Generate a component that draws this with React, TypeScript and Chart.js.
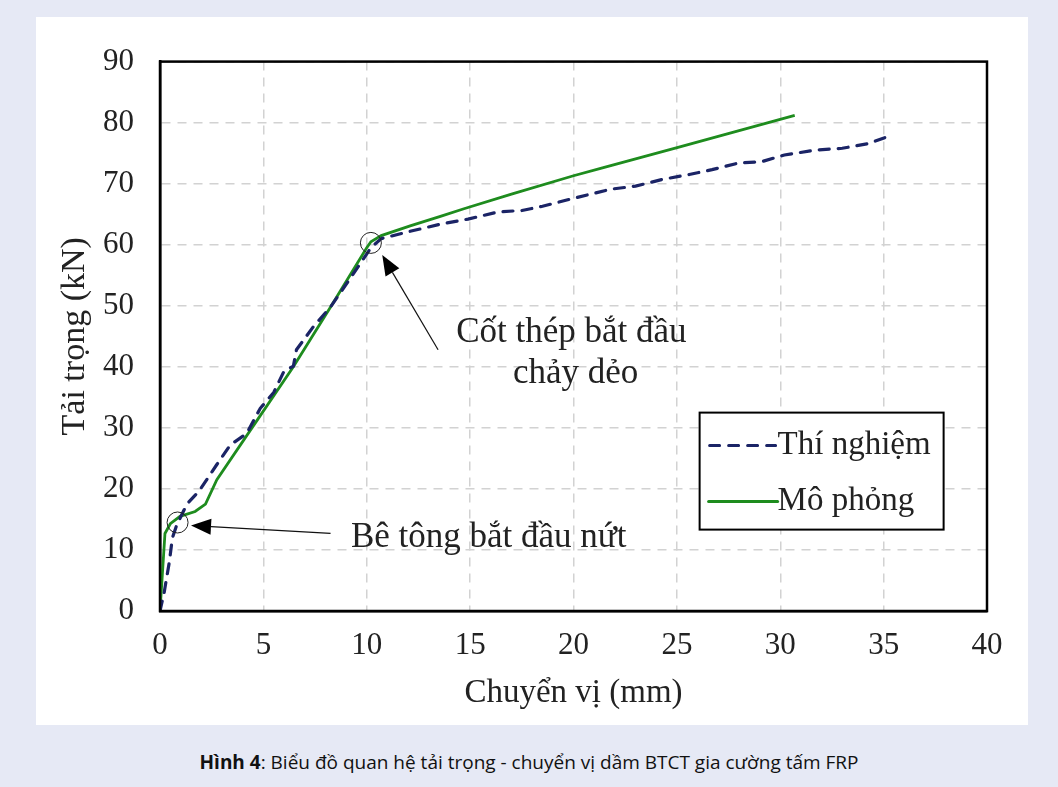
import React, { useEffect, useRef } from "react";
import { Chart, registerables } from "chart.js";

Chart.register(...registerables);

// Experimental (Thí nghiệm)
const expX = [0, 0.2, 0.45, 0.6, 0.8, 1.3, 1.9, 2.75, 3.4, 4.2, 4.4, 4.85, 5.5, 6.0, 6.45, 6.6, 7.4, 8.25, 9.2, 10.2, 10.7, 12.1, 13.6, 14.9, 16.4, 17.5, 18.5, 20.0, 21.8, 23.0, 24.3, 25.6, 26.7, 28.0, 29.1, 30.2, 31.7, 33.0, 34.3, 35.1];
const expY = [0, 3, 8, 12, 14, 17.5, 19.7, 24, 27.2, 29.1, 30.4, 33.2, 35.8, 39.3, 40.1, 42.8, 46.5, 49.8, 54.5, 59.5, 61, 62.2, 63.4, 64.2, 65.4, 65.6, 66.3, 67.6, 69.1, 69.6, 70.7, 71.5, 72.3, 73.4, 73.6, 74.7, 75.5, 75.8, 76.6, 77.6];

// Simulation (Mô phỏng)
const simX = [0, 0.15, 0.24, 0.5, 0.97, 1.7, 2.2, 2.75, 4.85, 6.45, 8.25, 10.0, 10.2, 10.7, 12.1, 13.6, 14.7, 17.0, 20.0, 21.4, 25.1, 30.7];
const simY = [0, 7.9, 12.7, 14.3, 15.5, 16.3, 17.5, 21.5, 32, 40, 49.8, 59.5, 60.5, 61.5, 63.1, 64.7, 65.9, 68.3, 71.3, 72.6, 76, 81.2];

const seriesLabels = ["Thí nghiệm", "Mô phỏng"];
const xTitle = "Chuyển vị (mm)";
const yTitle = "Tải trọng (kN)";
const note1 = ["Bê tông bắt đầu nứt"];
const note2 = ["Cốt thép bắt đầu", "chảy dẻo"];

const EXP_COLOR = "#1b2466";
const SIM_COLOR = "#1e8c1e";
const FONT = "'Liberation Serif', 'Times New Roman', serif";
const TEXT = "#222";

export default function App() {
  const ref = useRef<HTMLCanvasElement | null>(null);

  useEffect(() => {
    document.body.style.margin = "0";
    const canvas = ref.current!;
    const toPts = (xs: number[], ys: number[]) => xs.map((x, i) => ({ x, y: ys[i] }));

    const deco = {
      id: "deco",
      afterDraw(chart: any) {
        const { ctx, chartArea: ca, scales } = chart;
        const xs = scales.x, ys = scales.y;
        const px = (v: number) => xs.getPixelForValue(v);
        const py = (v: number) => ys.getPixelForValue(v);
        ctx.save();
        // frame
        ctx.strokeStyle = "#000";
        ctx.lineWidth = 2.5;
        ctx.strokeRect(ca.left, ca.top, ca.right - ca.left, ca.bottom - ca.top);

        // circles
        ctx.lineWidth = 1;
        ctx.strokeStyle = "#222";
        [[0.85, 14.5], [10.2, 60.3]].forEach(([cx, cy]) => {
          ctx.beginPath();
          ctx.arc(px(cx), py(cy), 10.5, 0, Math.PI * 2);
          ctx.stroke();
        });

        // arrows
        const arrow = (x1: number, y1: number, x2: number, y2: number) => {
          const ang = Math.atan2(y2 - y1, x2 - x1);
          const L = 20, W = 8;
          const bx = x2 - L * Math.cos(ang), by = y2 - L * Math.sin(ang);
          ctx.beginPath();
          ctx.moveTo(x1, y1);
          ctx.lineTo(bx, by);
          ctx.strokeStyle = "#111";
          ctx.lineWidth = 1.2;
          ctx.stroke();
          ctx.beginPath();
          ctx.moveTo(x2, y2);
          ctx.lineTo(bx + W * Math.sin(ang), by - W * Math.cos(ang));
          ctx.lineTo(bx - W * Math.sin(ang), by + W * Math.cos(ang));
          ctx.closePath();
          ctx.fillStyle = "#000";
          ctx.fill();
        };
        arrow(px(8.25), py(12.7), px(1.5), py(14.0));
        arrow(px(13.45), py(42.8), px(10.75), py(58.3));

        // annotation text
        ctx.fillStyle = TEXT;
        ctx.font = `35px ${FONT}`;
        ctx.textAlign = "center";
        ctx.textBaseline = "middle";
        ctx.fillText(note1[0], px(15.9), py(12.0));
        ctx.fillText(note2[0], px(19.9), py(45.6));
        ctx.fillText(note2[1], px(20.1), py(38.8));

        // axis titles
        ctx.font = `33px ${FONT}`;
        ctx.fillText(xTitle, (ca.left + ca.right) / 2, ca.bottom + 82);
        ctx.save();
        ctx.translate(ca.left - 85, (ca.top + ca.bottom) / 2);
        ctx.rotate(-Math.PI / 2);
        ctx.font = `34px ${FONT}`;
        ctx.fillText(yTitle, 0, 0);
        ctx.restore();

        // legend
        const lx = px(26.1), ly = py(32.5);
        const lw = 244, lh = 117;
        ctx.fillStyle = "#fff";
        ctx.fillRect(lx, ly, lw, lh);
        ctx.strokeStyle = "#000";
        ctx.lineWidth = 2;
        ctx.strokeRect(lx, ly, lw, lh);
        ctx.lineWidth = 3;
        ctx.strokeStyle = EXP_COLOR;
        ctx.lineCap = "round";
        ctx.setLineDash([10, 9]);
        ctx.beginPath();
        ctx.moveTo(lx + 10, ly + 33);
        ctx.lineTo(lx + 76, ly + 33);
        ctx.stroke();
        ctx.setLineDash([]);
        ctx.strokeStyle = SIM_COLOR;
        ctx.beginPath();
        ctx.moveTo(lx + 9, ly + 89);
        ctx.lineTo(lx + 78, ly + 89);
        ctx.stroke();
        ctx.fillStyle = TEXT;
        ctx.textAlign = "left";
        ctx.font = `33px ${FONT}`;
        ctx.fillText(seriesLabels[0], lx + 78, ly + 33);
        ctx.fillText(seriesLabels[1], lx + 78, ly + 89);
        ctx.restore();
      },
    };

    const chart = new Chart(canvas, {
      type: "line",
      data: {
        datasets: [
          {
            label: seriesLabels[0],
            data: toPts(expX, expY),
            borderColor: EXP_COLOR,
            borderWidth: 3.2,
            borderDash: [10, 9],
            borderCapStyle: "round",
            pointRadius: 0,
            tension: 0,
            fill: false,
          },
          {
            label: seriesLabels[1],
            data: toPts(simX, simY),
            borderColor: SIM_COLOR,
            borderWidth: 2.8,
            pointRadius: 0,
            tension: 0,
            fill: false,
          },
        ],
      },
      options: {
        animation: false,
        responsive: false,
        maintainAspectRatio: false,
        layout: { padding: { left: 0, top: 33, right: 41, bottom: 0 } },
        plugins: { legend: { display: false }, tooltip: { enabled: false }, title: { display: false } },
        scales: {
          x: {
            type: "linear",
            min: 0,
            max: 40,
            ticks: { stepSize: 5, color: TEXT, font: { family: FONT, size: 31 }, padding: 16, maxRotation: 0 },
            grid: { color: "#d2d2d2", lineWidth: 1.5, drawTicks: false },
            border: { display: true, color: "#000", width: 2.5, dash: [9, 7] },
            afterFit: (s: any) => { s.height = 114; },
          },
          y: {
            type: "linear",
            min: 0,
            max: 90,
            ticks: { stepSize: 10, color: TEXT, font: { family: FONT, size: 31 }, padding: 26 },
            grid: { color: "#d2d2d2", lineWidth: 1.5, drawTicks: false },
            border: { display: true, color: "#000", width: 2.5, dash: [9, 7] },
            afterFit: (s: any) => { s.width = 124; },
          },
        },
      },
      plugins: [deco],
    } as any);
    return () => chart.destroy();
  }, []);

  return (
    <div style={{ position: "fixed", left: 0, top: 0, width: 1058, height: 787, background: "#e6e9f5", overflow: "hidden" }}>
      <div style={{ position: "absolute", left: 36, top: 17, width: 992, height: 708, background: "#fff" }}>
        <canvas ref={ref} width={992} height={708} style={{ display: "block", width: 992, height: 708 }} />
      </div>
      <div
        style={{
          position: "absolute",
          left: 0,
          top: 750,
          width: 1058,
          textAlign: "center",
          fontFamily: "'Open Sans', 'Noto Sans', sans-serif",
          fontSize: 19,
          color: "#111",
          lineHeight: "24px",
        }}
      >
        <b>Hình 4</b>: Biểu đồ quan hệ tải trọng - chuyển vị dầm BTCT gia cường tấm FRP
      </div>
    </div>
  );
}
